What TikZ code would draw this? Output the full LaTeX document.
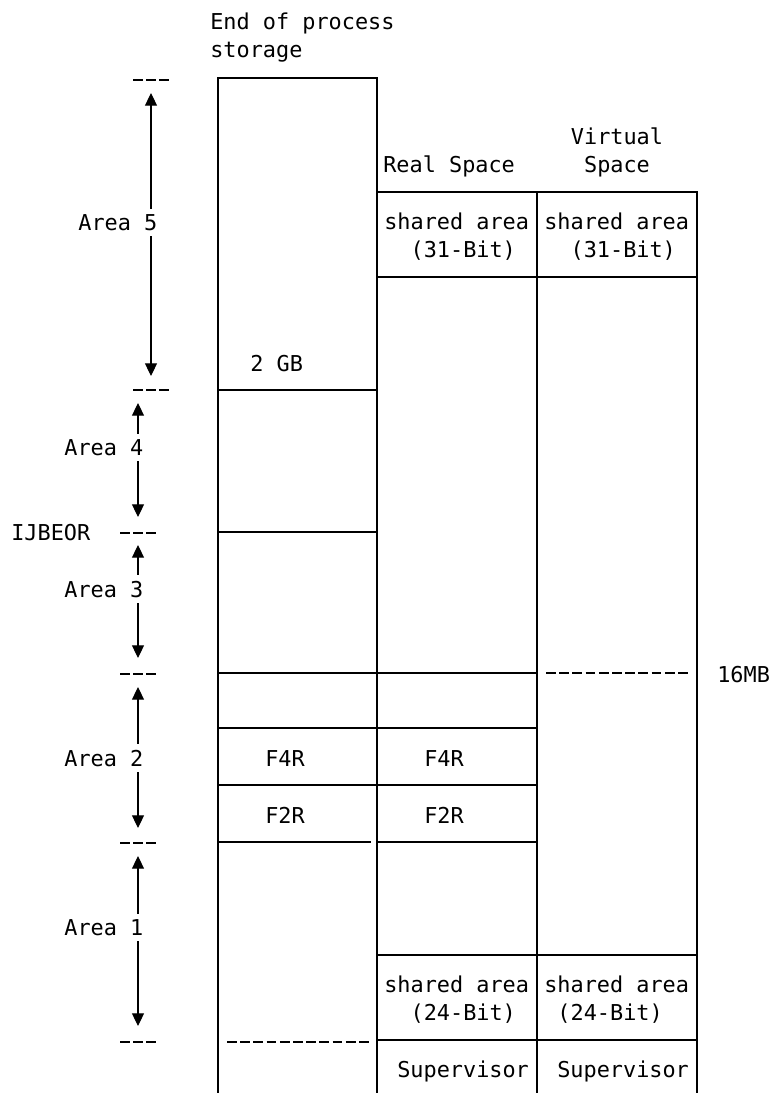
\documentclass[tikz,border=0pt]{standalone}
\usepackage{fontspec}
\setmonofont{DejaVu Sans Mono}
\usetikzlibrary{arrows.meta}

\begin{document}
\begin{tikzpicture}[
 x=0.75pt, y=-0.75pt,
 font=\ttfamily\fontsize{16.4pt}{21pt}\selectfont,
 wall/.style={line width=1pt},
 cut/.style={line width=1.9pt, dash pattern=on 7.4pt off 2.5pt},
 span/.style={{Triangle[length=9.5pt,width=9pt]}-{Triangle[length=9.5pt,width=9pt]}, line width=0.8pt},
 txt/.style={inner sep=0pt, anchor=base west},
 ctxt/.style={inner sep=0pt, anchor=base, align=center},
 arealbl/.style={inner xsep=1pt, inner ysep=4pt, anchor=base east, fill=white}
]
\useasboundingbox (0,0) rectangle (773,1093);

% headings (multi-line nodes sit on their last line)
\node[txt, align=left] (endps) at (210,57) {End of process\\storage};
\node[txt] (realhd) at (383,172) {Real Space};
\node[ctxt] (virthd) at (617,172) {Virtual\\Space};

% columns
\draw[wall] (218,1093) -- (218,78) -- (377,78) -- (377,1093);
\draw[wall] (377,192) -- (697,192) -- (697,1093);
\draw[wall] (537,192) -- (537,1093);

% boundaries inside the columns
\draw[wall] (218,390) -- (377,390);
\draw[wall] (218,532) -- (377,532);
\draw[wall] (218,673) -- (537,673);
\draw[wall] (218,728) -- (537,728);
\draw[wall] (218,785) -- (537,785);
\draw[wall] (218,842) -- (371,842);
\draw[wall] (377,842) -- (537,842);
\draw[wall] (377,277) -- (697,277);
\draw[wall] (377,955) -- (697,955);
\draw[wall] (377,1040) -- (697,1040);
\draw[cut] (546,673) -- (688,673);
\draw[cut] (227,1042) -- (369,1042);

% area limits
\draw[cut] (133,80) -- (169.3,80);
\draw[cut] (133,390) -- (169.3,390);
\draw[cut] (120,533) -- (156.3,533);
\draw[cut] (120,674) -- (156.3,674);
\draw[cut] (120,843) -- (156.3,843);
\draw[cut] (120,1042) -- (156.3,1042);

% column texts
\node[txt] (gb2) at (250,371) {2 GB};
\node[txt] (f4rps) at (265,766) {F4R};
\node[txt] (f2rps) at (265,823) {F2R};
\node[txt] (f4rreal) at (424,766) {F4R};
\node[txt] (f2rreal) at (424,823) {F2R};
\node[txt, align=left] (sh31real) at (384,257) {shared area\\\hphantom{sh}(31-Bit)};
\node[txt, align=left] (sh31virt) at (544,257) {shared area\\\hphantom{sh}(31-Bit)};
\node[txt, align=left] (sh24real) at (384,1020) {shared area\\\hphantom{sh}(24-Bit)};
\node[txt, align=left] (sh24virt) at (544,1020) {shared area\\\hphantom{s}(24-Bit)};
\node[txt] (supreal) at (397,1077) {Supervisor};
\node[txt] (supvirt) at (557,1077) {Supervisor};
\node[txt] (mb16) at (717,682) {16MB};
\node[txt] (ijbeor) at (11,540) {IJBEOR};

% area arrows
\coordinate (a5t) at (151,93);
\coordinate (a5b) at (151,376);
\coordinate (a4t) at (138,403);
\coordinate (a4b) at (138,517);
\coordinate (a3t) at (138,545);
\coordinate (a3b) at (138,658);
\coordinate (a2t) at (138,687);
\coordinate (a2b) at (138,828);
\coordinate (a1t) at (138,856);
\coordinate (a1b) at (138,1026);
\draw[span] (a5t) -- (a5b);
\draw[span] (a4t) -- (a4b);
\draw[span] (a3t) -- (a3b);
\draw[span] (a2t) -- (a2b);
\draw[span] (a1t) -- (a1b);
\node[arealbl] (area5) at (159,230) {Area 5};
\node[arealbl] (area4) at (145,455) {Area 4};
\node[arealbl] (area3) at (145,597) {Area 3};
\node[arealbl] (area2) at (145,766) {Area 2};
\node[arealbl] (area1) at (145,935) {Area 1};
\end{tikzpicture}
\end{document}
